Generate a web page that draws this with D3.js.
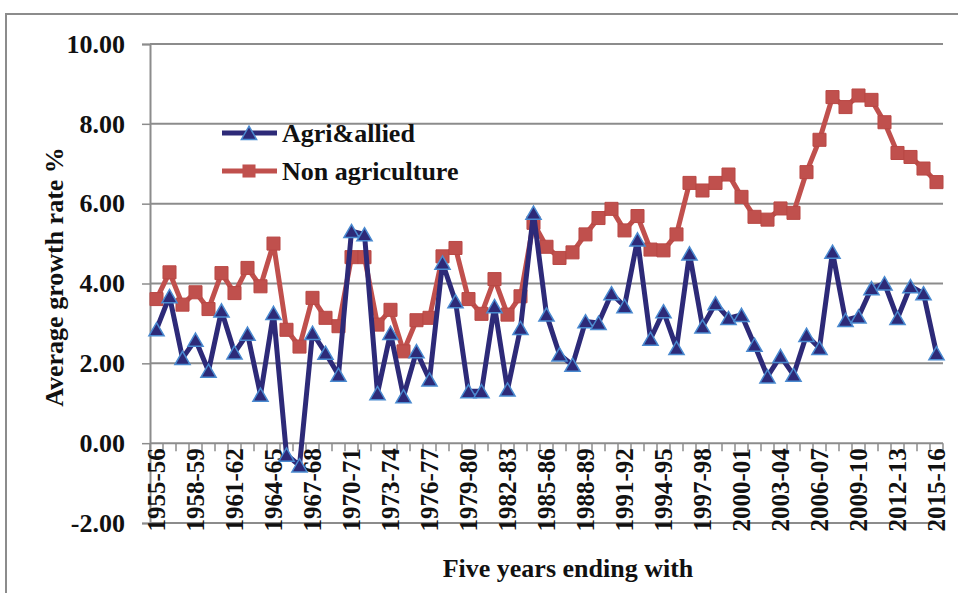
<!DOCTYPE html>
<html lang="en">

<head>
	<meta charset="utf-8">
	<title>Average growth rate</title>
	<script src="https://d3js.org/d3.v7.min.js"></script>
	<style>
		body { margin: 0; background: #fff; }
		text { font-family: "Liberation Serif", "Times New Roman", serif; font-weight: bold; fill: #111; }
	</style>
</head>

<body>
	<svg id="chart" width="958" height="593"></svg>

	<script type="text/javascript">
		// five year periods (ending with)
		var years = ["1955-56", "1956-57", "1957-58", "1958-59", "1959-60", "1960-61", "1961-62", "1962-63",
			"1963-64", "1964-65", "1965-66", "1966-67", "1967-68", "1968-69", "1969-70", "1970-71", "1971-72",
			"1972-73", "1973-74", "1974-75", "1975-76", "1976-77", "1977-78", "1978-79", "1979-80", "1980-81",
			"1981-82", "1982-83", "1983-84", "1984-85", "1985-86", "1986-87", "1987-88", "1988-89", "1989-90",
			"1990-91", "1991-92", "1992-93", "1993-94", "1994-95", "1995-96", "1996-97", "1997-98", "1998-99",
			"1999-00", "2000-01", "2001-02", "2002-03", "2003-04", "2004-05", "2005-06", "2006-07", "2007-08",
			"2008-09", "2009-10", "2010-11", "2011-12", "2012-13", "2013-14", "2014-15", "2015-16"];

		var agri = [2.85, 3.68, 2.13, 2.59, 1.81, 3.32, 2.27, 2.74, 1.21, 3.26,
			-0.29, -0.56, 2.76, 2.26, 1.71, 5.31, 5.23, 1.25, 2.76, 1.17,
			2.30, 1.59, 4.52, 3.55, 1.30, 1.30, 3.43, 1.34, 2.88, 5.77,
			3.22, 2.22, 1.96, 3.05, 3.01, 3.75, 3.43, 5.10, 2.61, 3.30,
			2.38, 4.75, 2.92, 3.50, 3.13, 3.21, 2.46, 1.67, 2.18, 1.71,
			2.71, 2.38, 4.79, 3.08, 3.17, 3.88, 4.00, 3.13, 3.93, 3.75, 2.25];

		var nonAgri = [3.61, 4.28, 3.47, 3.78, 3.36, 4.26, 3.76, 4.39, 3.93, 5.00,
			2.84, 2.42, 3.64, 3.14, 2.93, 4.66, 4.66, 2.97, 3.34, 2.30,
			3.08, 3.14, 4.68, 4.89, 3.61, 3.24, 4.11, 3.22, 3.68, 5.52,
			4.92, 4.64, 4.78, 5.23, 5.64, 5.87, 5.33, 5.69, 4.85, 4.83,
			5.23, 6.52, 6.33, 6.52, 6.73, 6.17, 5.67, 5.60, 5.88, 5.77,
			6.79, 7.60, 8.67, 8.42, 8.71, 8.60, 8.04, 7.27, 7.17, 6.88, 6.54];

		var yTicks = [-2, 0, 2, 4, 6, 8, 10];
		var seriesNames = ["Agri&allied", "Non agriculture"];

		//****************** canvas ******************//
		var plotL = 150, plotR = 943, plotT = 44, plotB = 523;
		var svg = d3.select("#chart");

		// outer chart border (only top and left are visible)
		svg.append("path")
			.attr("d", "M6,600 L6,14 L970,14")
			.attr("fill", "none")
			.attr("stroke", "#8c8c8c")
			.attr("stroke-width", 2);

		var x = d3.scaleBand()
			.domain(years)
			.range([plotL, plotR]);

		var y = d3.scaleLinear()
			.domain([-2, 10])
			.range([plotB, plotT]);

		function cx(d, i) { return x(years[i]) + x.bandwidth() / 2; }

		// horizontal gridlines
		svg.selectAll(".grid")
			.data(yTicks)
			.enter()
			.append("line")
			.attr("x1", plotL)
			.attr("x2", plotR)
			.attr("y1", function (d) { return y(d); })
			.attr("y2", function (d) { return y(d); })
			.attr("stroke", "#8c8c8c")
			.attr("stroke-width", 2);

		// y axis
		var yAxis = svg.append("g")
			.attr("transform", "translate(" + plotL + ",0)")
			.call(d3.axisLeft(y).tickValues(yTicks).tickSize(8).tickPadding(17)
				.tickFormat(function (d) { return d.toFixed(2); }));
		yAxis.select(".domain").attr("stroke", "#8c8c8c").attr("stroke-width", 2);
		yAxis.selectAll(".tick line").attr("stroke", "#8c8c8c").attr("stroke-width", 1.5);
		yAxis.selectAll(".tick text")
			.style("font-size", "26px")
			.attr("fill", "#111")
			.attr("font-family", null);

		// x axis crosses at 0, ticks between categories
		var xAxis = svg.append("g")
			.attr("transform", "translate(0," + y(0) + ")");
		xAxis.selectAll(".xtick")
			.data(d3.range(years.length + 1))
			.enter()
			.append("line")
			.attr("x1", function (d) { return plotL + d * x.bandwidth(); })
			.attr("x2", function (d) { return plotL + d * x.bandwidth(); })
			.attr("y1", 0)
			.attr("y2", 8)
			.attr("stroke", "#8c8c8c")
			.attr("stroke-width", 1.5);

		// category labels, every third one, at the low position
		svg.selectAll(".xlabel")
			.data(years.filter(function (d, i) { return i % 3 == 0; }))
			.enter()
			.append("text")
			.attr("transform", function (d) {
				return "translate(" + (x(d) + x.bandwidth() / 2) + "," + (y(0) + 5) + ") rotate(-90)";
			})
			.attr("text-anchor", "end")
			.attr("dy", "0.35em")
			.style("font-size", "25px")
			.text(function (d) { return d; });

		// axis titles
		svg.append("text")
			.attr("x", 568)
			.attr("y", 577)
			.attr("text-anchor", "middle")
			.style("font-size", "26px")
			.text("Five years ending with");

		svg.append("text")
			.attr("transform", "translate(63,277) rotate(-90)")
			.attr("text-anchor", "middle")
			.style("font-size", "26px")
			.text("Average growth rate %");

		//****************** series ******************//
		var line = d3.line()
			.x(function (d, i) { return cx(d, i); })
			.y(function (d) { return y(d); });

		var blue = "#2d2a78", blueEdge = "#4a8ad0", red = "#c0504d";
		var tri = d3.symbol().type(d3.symbolTriangle).size(100);
		var sq = d3.symbol().type(d3.symbolSquare).size(170);

		svg.append("path")
			.datum(nonAgri)
			.attr("d", line)
			.attr("fill", "none")
			.attr("stroke", red)
			.attr("stroke-width", 5)
			.attr("stroke-linejoin", "round");

		svg.selectAll(".sq")
			.data(nonAgri)
			.enter()
			.append("path")
			.attr("d", sq)
			.attr("transform", function (d, i) { return "translate(" + cx(d, i) + "," + y(d) + ")"; })
			.attr("fill", red)
			.attr("stroke", "#b94845")
			.attr("stroke-width", 1);

		svg.append("path")
			.datum(agri)
			.attr("d", line)
			.attr("fill", "none")
			.attr("stroke", blue)
			.attr("stroke-width", 5)
			.attr("stroke-linejoin", "round");

		svg.selectAll(".tri")
			.data(agri)
			.enter()
			.append("path")
			.attr("d", tri)
			.attr("transform", function (d, i) { return "translate(" + cx(d, i) + "," + (y(d) + 2) + ")"; })
			.attr("fill", blue)
			.attr("stroke", blueEdge)
			.attr("stroke-width", 1.5);

		//****************** legend ******************//
		var legend = svg.append("g");
		var legendY = [133, 171];
		legend.selectAll(".lline")
			.data(seriesNames)
			.enter()
			.append("line")
			.attr("x1", 222)
			.attr("x2", 277)
			.attr("y1", function (d, i) { return legendY[i]; })
			.attr("y2", function (d, i) { return legendY[i]; })
			.attr("stroke", function (d, i) { return i == 0 ? blue : red; })
			.attr("stroke-width", 5);

		legend.append("path")
			.attr("d", tri)
			.attr("transform", "translate(249," + (legendY[0] + 2) + ")")
			.attr("fill", blue)
			.attr("stroke", blueEdge)
			.attr("stroke-width", 1.5);
		legend.append("path")
			.attr("d", sq)
			.attr("transform", "translate(249," + legendY[1] + ")")
			.attr("fill", red);

		legend.selectAll(".ltext")
			.data(seriesNames)
			.enter()
			.append("text")
			.attr("x", 282)
			.attr("y", function (d, i) { return legendY[i]; })
			.attr("dy", "0.35em")
			.style("font-size", "26px")
			.text(function (d) { return d; });
	</script>

</body>

</html>
